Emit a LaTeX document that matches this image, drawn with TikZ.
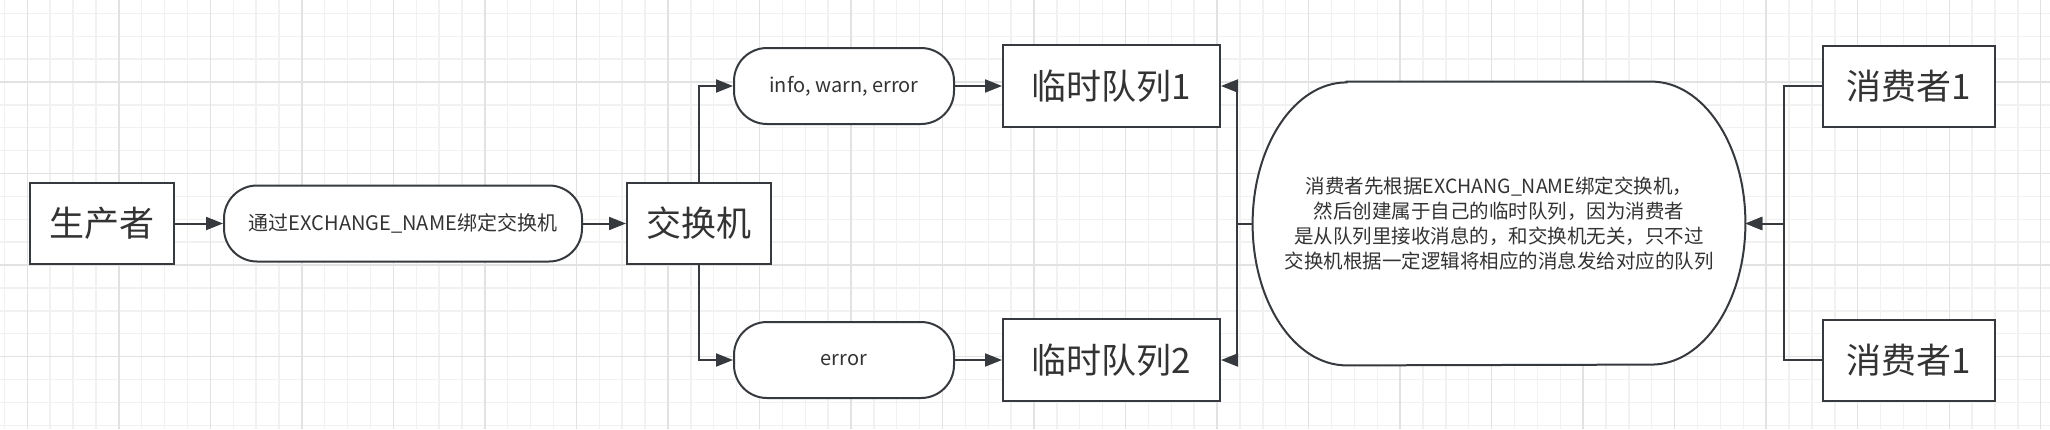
\documentclass[tikz,border=0pt]{standalone}
\usepackage{fontspec}
\setmainfont{Noto Sans CJK SC}
\usetikzlibrary{arrows.meta,calc}
\definecolor{strk}{HTML}{36393D}
\definecolor{txt}{HTML}{333333}
\definecolor{gminor}{HTML}{F1F1F1}
\definecolor{gmajor}{HTML}{E2E2E2}
\pgfdeclarelayer{gridlayer}
\pgfdeclarelayer{shapebg}
\pgfsetlayers{gridlayer,shapebg,main}
\begin{document}
\begin{tikzpicture}[x=0.5pt,y=-0.5pt,
  box/.style={draw=strk,line width=1pt,fill=white,minimum width=72pt,minimum height=40.5pt,inner sep=0pt,text=txt,font=\fontsize{17.5pt}{21pt}\selectfont},
  pill/.style={draw=strk,line width=1pt,fill=white,rounded corners=16.5pt,minimum width=110pt,minimum height=38pt,inner sep=0pt,text=txt,font=\fontsize{10pt}{12.5pt}\selectfont},
  arr/.style={draw=strk,line width=1pt,-{Triangle[length=8.5pt,width=6.5pt]}},
  minorline/.style={draw=gminor,line width=0.7pt},
  majorline/.style={draw=gmajor,line width=0.7pt}]
\useasboundingbox (0,0) rectangle (2050,429);
\begin{pgfonlayer}{gridlayer}
\fill[white] (0,0) rectangle (2050,429);
\foreach \i in {0,...,89} \draw[minorline] ({4.4+22.88*\i},0) -- ({4.4+22.88*\i},429);
\foreach \j in {0,...,18} \draw[minorline] (0,{13.36+22.88*\j}) -- (2050,{13.36+22.88*\j});
\foreach \i in {0,...,22} \draw[majorline] ({27.28+91.52*\i},0) -- ({27.28+91.52*\i},429);
\foreach \j in {0,...,3} \draw[majorline] (0,{82+91.5*\j}) -- (2050,{82+91.5*\j});
\end{pgfonlayer}

\node[box] (prod) at (102,223.5) {生产者};
\node[pill,minimum width=179pt] (bind) at (403,223.5) {通过EXCHANGE\_NAME绑定交换机};
\node[box] (ex) at (699,223.5) {交换机};
\node[pill] (pinfo) at (844,86) {info, warn, error};
\node[pill] (perr) at (844,360) {error};
\node[box,minimum width=108.5pt,minimum height=41pt] (q1) at (1111.5,86) {临时队列1};
\node[box,minimum width=108.5pt,minimum height=41pt] (q2) at (1111.5,360) {临时队列2};
\node[minimum width=246pt,minimum height=141.5pt,inner sep=0pt,text=txt,align=center,
  font=\fontsize{9.75pt}{12.5pt}\selectfont] (big) at (1499,223.5)
  {消费者先根据EXCHANG\_NAME绑定交换机，\\然后创建属于自己的临时队列，因为消费者\\是从队列里接收消息的，和交换机无关，只不过\\交换机根据一定逻辑将相应的消息发给对应的队列};
\node[box,minimum width=86pt] (c1) at (1909,86) {消费者1};
\node[box,minimum width=86pt] (c2) at (1909,360) {消费者1};

\begin{pgfonlayer}{shapebg}
\draw[draw=strk,line width=1pt,fill=white]
  ($(big.north west)+(94,0)$) -- ($(big.north east)+(-94,0)$)
  arc[start angle=90,end angle=-90,x radius=47pt,y radius=70.75pt]
  -- ($(big.south west)+(94,0)$)
  arc[start angle=270,end angle=90,x radius=47pt,y radius=70.75pt] -- cycle;
\end{pgfonlayer}

\coordinate (jl) at (1237,223.5);
\coordinate (jr) at (1784,223.5);

\draw[arr] (prod.east) -- (bind.west);
\draw[arr] (bind.east) -- (ex.west);
\draw[arr] (ex.north) |- (pinfo.west);
\draw[arr] (ex.south) |- (perr.west);
\draw[arr] (pinfo.east) -- (q1.west);
\draw[arr] (perr.east) -- (q2.west);
\draw[arr] (big.west) -- (jl) |- (q1.east);
\draw[arr] (big.west) -- (jl) |- (q2.east);
\draw[arr] (c1.west) -| (jr) -- (big.east);
\draw[arr] (c2.west) -| (jr) -- (big.east);
\end{tikzpicture}
\end{document}
